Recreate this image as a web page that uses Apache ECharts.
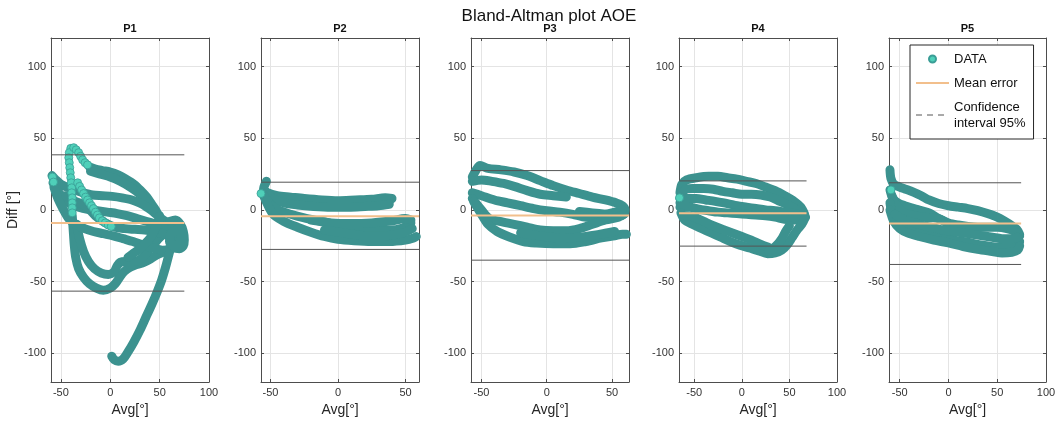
<!DOCTYPE html>
<html><head><meta charset="utf-8">
<script src="https://cdn.jsdelivr.net/npm/echarts@6/dist/echarts.min.js"></script>
<style>html,body{margin:0;padding:0;background:#fff}#c{width:1061px;height:425px}</style>
</head><body><div id="c"></div>
<script>
// ---------------- DATA ----------------
const chartTitle = 'Bland-Altman plot AOE';
const panelNames = ['P1', 'P2', 'P3', 'P4', 'P5'];
const xMin = [-60, -57, -58, -66, -61];
const xMax = [100, 60, 63, 100, 100];
const yMin = -120, yMax = 120;
const avgMin = [-60, -57, -58, -66, -61];
const avgMax = [75, 60, 63, 68, 74.5];
const meanErr = [-9, -4.3, -3.8, -2.2, -9.4];
const ciUpper = [38.5, 19.4, 27.5, 20.3, 19];
const ciLower = [-56.6, -27.5, -35, -25.2, -38];
const legendNames = ['DATA', 'Mean error', 'Confidence interval 95%'];

// dense trajectories (Avg, Diff)
const p1Tracks = [
  [[-21,30],[-15,28.5],[-8,27.5],[0,26.5],[8,24.5],[16,21.5],[24,18],[31,13.5],[37,9],[42,4],[46,0],[49,-4],[53,-8],[58,-11],[64,-13],[70,-15],[74,-19]],
  [[-20,27],[-10,25],[0,23],[10,20],[20,16],[30,11],[38,5],[44,0]],
  [[-38.5,-4],[-37.5,-14],[-36.5,-24],[-35,-33],[-32,-41],[-27,-47],[-21,-51.5],[-14,-54.5],[-7,-56],[0,-54.5],[5,-51.5],[9,-47.5],[14,-43],[20,-40],[27,-38],[34,-36.5],[41,-34],[48,-31],[55,-29],[62,-26],[68,-23],[73,-21]],
  [[-34,-10],[-31,-20],[-27,-29],[-22,-36],[-16,-41],[-9,-44],[-2,-45],[4,-43],[7,-39],[10,-36.5],[16,-36],[23,-36],[29,-35],[34,-32],[39,-28],[44,-24],[49,-20],[54,-17],[60,-15]],
  [[-59,24],[-55,21],[-50,18],[-44,16],[-36,14],[-27,12],[-18,10.5],[-8,10],[2,9.5],[12,8.5],[22,7],[31,4.5],[38,1.5],[44,-1.5],[50,-5],[56,-8],[63,-10],[70,-12]],
  [[-58,19],[-53,13],[-47,8],[-40,4],[-32,2],[-23,0.5],[-13,-0.5],[-3,-1.5],[7,-2.5],[17,-4],[27,-6],[37,-8],[47,-10],[57,-12.5],[66,-15],[73,-18]],
  [[-57,16],[-53,8],[-48,1],[-42,-6],[-35,-10],[-26,-13],[-17,-15],[-7,-16.5],[3,-18],[13,-20],[23,-22],[33,-24.5],[43,-26.5],[53,-28],[61,-27.5],[67,-25],[72,-22]],
  [[-45,10],[-35,6],[-25,3],[-15,-4],[-5,-9],[5,-12],[15,-13],[25,-13.5],[35,-14],[45,-15],[55,-17],[65,-20],[71,-23]],
  [[66,-12],[64,-18],[62,-24],[59,-32],[56,-40],[52,-49],[47,-58],[42,-66],[36,-75],[30,-84],[24,-92],[18,-99],[13,-104],[8,-105.5],[4,-104.5],[1.5,-102]],
  [[50,-4],[48,-9],[45,-14],[41,-19],[36,-23],[30,-27],[24,-30],[18,-33]],
  [[60,-8],[66,-7],[71,-10],[74,-15],[75,-21],[74,-25],[70,-27],[65,-26],[60,-22],[62,-16],[68,-14],[72,-18],[70,-22]]
];
const p1Sparse = [
  [-58.5,23],[-57.5,19.5],
  [-40,43],[-41.5,40],[-42,36.5],[-41.5,33],[-41,29.5],[-40.5,26],[-40,22.5],[-39.5,19],[-39,15.5],[-39,12],[-38.5,8.5],[-38.5,5],[-38.5,1.5],[-38.5,-2],
  [-37,43.5],[-34.5,42],[-32,40],[-30,37.5],[-28,35],[-25.5,33],[-23,31.5],
  [-33,19],[-31,16.5],[-29,14],[-27,11.5],[-25,9],[-23,7],[-21,5],[-19,3],[-17,1],[-15,-1.5],[-13,-3.5],[-11,-5.5],[-8,-7.5],[-5,-9],[-2,-10.5],[1,-11.5]
];

const p2Tracks = [
  [[-53,20],[-55,15],[-52,12],[-45,10],[-35,9],[-25,8],[-12,7],[0,6.5],[13,7],[25,7.5],[35,8.5],[40,8]],
  [[-55,14],[-48,8],[-40,5],[-30,3.5],[-18,2.5],[-5,2],[8,2],[20,2.5],[30,3],[38,4]],
  [[-56,12],[-50,4],[-44,0],[-35,-3],[-25,-5.5],[-12,-8],[0,-10.5],[12,-12.5],[25,-14],[38,-14],[48,-12.5],[54,-9]],
  [[-55,10],[-48,-3],[-40,-8],[-30,-12],[-20,-15.5],[-10,-18.5],[0,-20.5],[12,-21.5],[25,-22],[38,-22],[50,-21],[56,-19.5],[58,-18.5]],
  [[-20,-7],[-5,-9],[10,-9.5],[25,-9],[40,-7.5],[50,-6],[54,-7]],
  [[-10,-14],[5,-16],[20,-18],[35,-18],[48,-16],[55,-13]]
];
const p2Sparse = [[-57,11.5]];

const p3Tracks = [
  [[-57,23],[-54,28],[-51,31],[-45,29],[-35,28],[-25,26.5],[-15,24],[-5,20.5],[5,17],[15,14],[25,11.5],[35,9],[45,7],[53,5],[58,3],[60,0],[59,-3],[55,-4],[45,-3],[35,-2],[25,-1]],
  [[-57,20],[-50,21],[-42,20],[-33,18.5],[-25,16.5],[-15,13.5],[-5,11],[5,10],[15,9]],
  [[-57,12],[-50,10],[-40,7],[-30,5],[-20,3],[-10,1],[0,-0.5],[10,-1.5],[20,-3],[30,-5],[40,-4],[50,-2],[58,0]],
  [[-57,8],[-50,0],[-44,-6],[-36,-8],[-25,-10],[-15,-12],[-5,-14],[5,-14.5],[15,-14.5],[25,-13],[35,-10],[45,-7],[55,-5],[59,-3]],
  [[-56,6],[-50,-3],[-45,-10],[-38,-15],[-28,-19],[-18,-22],[-8,-23],[5,-23.5],[18,-23.5],[30,-22],[42,-19.5],[52,-18],[58,-17],[61,-17]],
  [[-20,-16],[-5,-18],[10,-19.5],[25,-19],[40,-17],[52,-15]]
];
const p3Sparse = [[-58.5,23]];

const p4Tracks = [
  [[-65,12],[-63,18],[-58,21],[-48,22.5],[-35,23.5],[-25,23.5],[-15,22.5],[-5,21.5],[5,20],[15,18.5],[25,16],[35,13.5],[45,10],[55,6],[62,2],[66,-3]],
  [[-65,8],[-60,14],[-52,15],[-40,15],[-30,14.5],[-20,13],[-10,12],[0,11],[10,11],[20,10.5],[30,9],[40,6],[50,3],[58,0],[64,-2]],
  [[-65,5],[-58,8],[-48,8],[-38,7],[-28,6],[-15,4.5],[-5,3],[5,2],[15,1],[25,0],[35,-0.5],[45,-1.5],[55,-2.5],[64,-4]],
  [[-65,2],[-55,2],[-45,0.5],[-35,-0.5],[-25,-1.5],[-15,-2],[-5,-2.5],[5,-3],[15,-3.5],[25,-4],[35,-5],[45,-6.5],[55,-7],[62,-6.5],[67,-5]],
  [[-64,-2],[-60,-7],[-52,-10],[-42,-13],[-32,-16],[-22,-19],[-12,-22],[-2,-24.5],[8,-26.5],[18,-28.5],[27,-30.5],[35,-30],[42,-28],[48,-24],[53,-19],[58,-14],[63,-10],[66,-6]],
  [[-60,-4],[-50,-5],[-40,-8],[-30,-11],[-20,-13.5],[-10,-16],[0,-18.5],[10,-21],[20,-24],[28,-26]],
  [[28,-29],[36,-25],[42,-20],[46,-15],[50,-11]]
];
const p4Sparse = [[-65.5,8.5]];

const p5Tracks = [
  [[-60,28],[-59,22],[-56,18],[-50,16],[-44,14.5],[-36,12.5],[-28,10],[-20,7],[-10,4.5],[0,3],[10,2],[20,1],[30,-0.5],[40,-2.5],[50,-5],[58,-8],[65,-11],[70,-13.5],[73,-17]],
  [[-60,14],[-57,8],[-52,5],[-45,3],[-38,1.5],[-30,0],[-20,-2],[-10,-6],[0,-9],[10,-10.5],[20,-11.5],[30,-12],[40,-12],[50,-12],[60,-13],[68,-15],[73,-18]],
  [[-58,10],[-52,2],[-45,-2],[-35,-4],[-25,-5],[-15,-5.5],[-8,-6.5],[-2,-9]],
  [[-60,5],[-58,-2],[-54,-7],[-48,-11],[-40,-13.5],[-30,-15.5],[-20,-17],[-10,-18.5],[0,-20],[10,-21.5],[20,-22.5],[30,-24],[40,-25],[50,-26],[60,-25.5],[68,-24],[73,-22]],
  [[-60,0],[-56,-8],[-50,-13],[-42,-16],[-30,-18.5],[-15,-21],[0,-23],[15,-25.5],[30,-27.5],[45,-29],[55,-30],[65,-29.5],[71,-28],[73,-25]],
  [[-55,-3],[-45,-7],[-35,-9],[-25,-11],[-15,-12.5],[-5,-14],[5,-15],[15,-16],[25,-17],[35,-18],[45,-19],[55,-20],[65,-20],[71,-19]]
];
const p5Sparse = [[-59,14]];

const allTracks = [p1Tracks, p2Tracks, p3Tracks, p4Tracks, p5Tracks];
const allSparse = [p1Sparse, p2Sparse, p3Sparse, p4Sparse, p5Sparse];

// ---------------- LAYOUT / STYLE ----------------
const FONT = '"Liberation Sans", Arial, Helvetica, sans-serif';
const gridLeft = [51, 261, 471, 679, 889];
const gridWidth = [158, 158, 158, 158, 157];
const gridTop = 38, gridHeight = 344;
const AXIS_C = '#4d4d4d';
const DARK = '#3c928f';
const LIGHT = '#4fd0b9';

const fmt = v => (Math.abs(v % 50) < 1e-9 ? String(v) : '');

const grids = [], xAxes = [], yAxes = [], titles = [], series = [];
titles.push({ text: chartTitle, left: 549, top: 8, textAlign: 'center', padding: 0,
  textStyle: { fontFamily: FONT, fontSize: 17, fontWeight: 'normal', color: '#111' } });

for (let i = 0; i < 5; i++) {
  grids.push({ left: gridLeft[i], top: gridTop, width: gridWidth[i], height: gridHeight, containLabel: false });
  titles.push({ text: panelNames[i], left: gridLeft[i] + gridWidth[i] / 2, top: 23, textAlign: 'center', padding: 0,
    textStyle: { fontFamily: FONT, fontSize: 11, fontWeight: 'bold', color: '#111' } });
  const common = {
    type: 'value', gridIndex: i,
    axisLine: { show: true, onZero: false, lineStyle: { color: AXIS_C, width: 1 } },
    axisTick: { show: true, inside: true, length: 3, lineStyle: { color: AXIS_C } },
    minInterval: 50, maxInterval: 50
  };
  xAxes.push(Object.assign({}, common, {
    min: xMin[i], max: xMax[i], splitNumber: 3, position: 'bottom',
    name: 'Avg[°]', nameLocation: 'middle', nameGap: 18,
    nameTextStyle: { fontFamily: FONT, fontSize: 14, color: '#262626' },
    axisLabel: { formatter: fmt, margin: 5, fontFamily: FONT, fontSize: 11, color: '#333' },
    splitLine: { show: true, lineStyle: { color: '#e4e4e4', width: 1 } }
  }));
  yAxes.push(Object.assign({}, common, {
    min: yMin, max: yMax, splitNumber: 5, position: 'left',
    name: i === 0 ? 'Diff [°]' : '', nameLocation: 'middle', nameGap: 22,
    nameTextStyle: { fontFamily: FONT, fontSize: 14, color: '#262626' },
    axisLabel: { formatter: fmt, margin: 5, fontFamily: FONT, fontSize: 11, color: '#333' },
    splitLine: { show: true, lineStyle: { color: '#e4e4e4', width: 1 } }
  }));
}
for (let i = 0; i < 5; i++) {
  const common = {
    type: 'value', gridIndex: i,
    axisLine: { show: true, onZero: false, lineStyle: { color: AXIS_C, width: 1 } },
    axisTick: { show: true, inside: true, length: 3, lineStyle: { color: AXIS_C } },
    axisLabel: { show: false }, splitLine: { show: false },
    minInterval: 50, maxInterval: 50
  };
  xAxes.push(Object.assign({}, common, { min: xMin[i], max: xMax[i], splitNumber: 3, position: 'top' }));
  yAxes.push(Object.assign({}, common, { min: yMin, max: yMax, splitNumber: 5, position: 'right' }));
}

// sparse (light) markers first so the legend uses the scatter icon
for (let i = 0; i < 5; i++) {
  series.push({ type: 'scatter', name: legendNames[0], xAxisIndex: i, yAxisIndex: i, data: allSparse[i],
    symbol: 'circle', symbolSize: 8, z: 4, silent: true,
    itemStyle: { color: LIGHT, borderColor: '#3a9d96', borderWidth: 0.8, opacity: 1 } });
}
for (let i = 0; i < 5; i++) {
  allTracks[i].forEach(t => {
    series.push({ type: 'line', name: legendNames[0], xAxisIndex: i, yAxisIndex: i, data: t,
      symbol: 'none', smooth: 0.3, z: 3, silent: true, clip: true,
      lineStyle: { color: DARK, width: 9, cap: 'round', join: 'round' } });
  });
}
for (let i = 0; i < 5; i++) {
  series.push({ type: 'line', name: legendNames[2], xAxisIndex: i, yAxisIndex: i,
    data: [[avgMin[i], ciUpper[i]], [avgMax[i], ciUpper[i]]], symbol: 'none', z: 5, silent: true,
    lineStyle: { color: '#555', width: 1 } });
  series.push({ type: 'line', name: legendNames[2], xAxisIndex: i, yAxisIndex: i,
    data: [[avgMin[i], ciLower[i]], [avgMax[i], ciLower[i]]], symbol: 'none', z: 5, silent: true,
    lineStyle: { color: '#555', width: 1 } });
  series.push({ type: 'line', name: legendNames[1], xAxisIndex: i, yAxisIndex: i,
    data: [[avgMin[i], meanErr[i]], [avgMax[i], meanErr[i]]], symbol: 'none', z: 6, silent: true,
    lineStyle: { color: '#f2bf8c', width: 2 } });
}

const chart = echarts.init(document.getElementById('c'), null, { renderer: 'canvas' });
chart.setOption({
  animation: false,
  backgroundColor: '#fff',
  title: titles,
  grid: grids,
  xAxis: xAxes,
  yAxis: yAxes,
  legend: {
    orient: 'vertical', left: 910, top: 45, selectedMode: false,
    padding: [6, 8, 8, 5], itemGap: 8, itemWidth: 33, itemHeight: 7,
    borderColor: '#262626', borderWidth: 1, backgroundColor: '#fff',
    textStyle: { fontFamily: FONT, fontSize: 13, color: '#111', lineHeight: 16 },
    formatter: n => (n === legendNames[2] ? 'Confidence\ninterval 95%' : n),
    data: [
      { name: legendNames[0], icon: 'circle' },
      { name: legendNames[1], itemStyle: { opacity: 0 } },
      { name: legendNames[2], itemStyle: { opacity: 0 }, lineStyle: { type: [6, 5], color: '#555', width: 1 } }
    ]
  },
  series: series
});
</script>
</body></html>
